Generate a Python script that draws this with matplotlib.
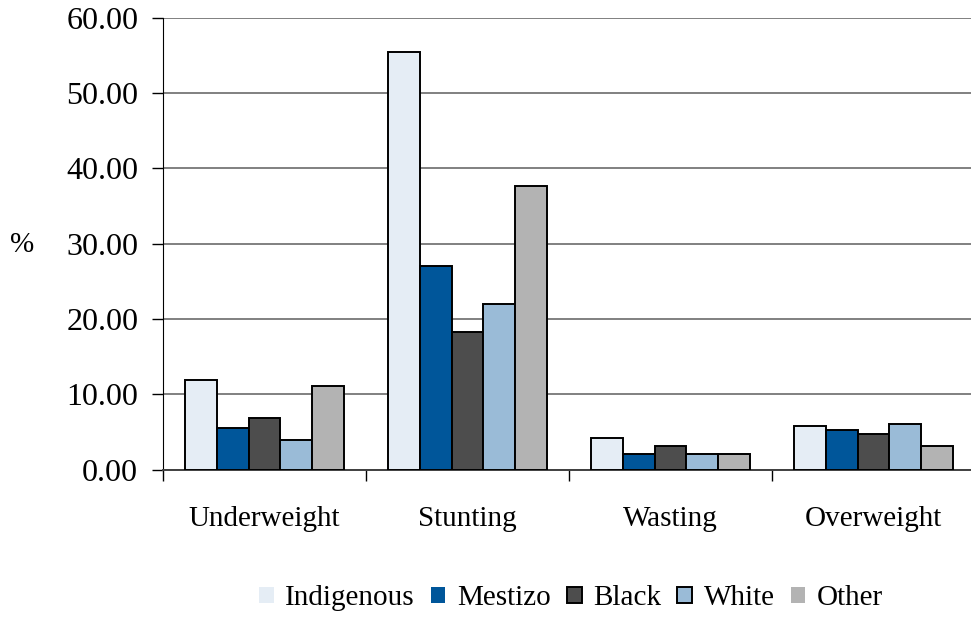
import numpy as np
import matplotlib
matplotlib.use('Agg')
import matplotlib.pyplot as plt

plt.rcParams['font.family'] = ['Liberation Serif', 'DejaVu Serif']

# data
categories = ['Underweight', 'Stunting', 'Wasting', 'Overweight']
groups = ['Indigenous', 'Mestizo', 'Black', 'White', 'Other']
indigenous = [11.95, 55.5, 4.2, 5.8]
mestizo = [5.5, 27.05, 2.1, 5.3]
black = [6.9, 18.3, 3.15, 4.75]
white = [3.95, 22.0, 2.05, 6.1]
other = [11.1, 37.7, 2.1, 3.15]
colors = ['#E5EDF5', '#00569A', '#4D4D4D', '#9ABBD7', '#B3B3B3']

series = [indigenous, mestizo, black, white, other]

fig = plt.figure(figsize=(9.71, 6.17), dpi=100)
ax = fig.add_axes([0.168, 0.239, 0.836, 0.732])

x = np.arange(len(categories)) + 0.5
w = 0.156
for i, (vals, name, c) in enumerate(zip(series, groups, colors)):
    ax.bar(x + (i - 2) * w, vals, width=w, color=c, edgecolor='black',
           linewidth=1.4, label=name, zorder=3)

ax.set_xlim(0, len(categories))
ax.set_ylim(0, 60)
ax.set_yticks(np.arange(0, 61, 10))
ax.set_yticklabels([f'{v:.2f}' for v in np.arange(0, 61, 10)], fontsize=23)
ax.yaxis.grid(True, color='#808080', linewidth=1.4, zorder=0)

# category boundaries as ticks, names centred between them
ax.set_xticks(np.arange(0, len(categories) + 1))
ax.set_xticklabels([])
ax.set_xticks(x, minor=True)
ax.set_xticklabels(categories, minor=True, fontsize=21)
ax.tick_params(axis='x', which='minor', length=0, pad=26)
ax.tick_params(axis='x', which='major', length=8, width=1, direction='out')
ax.tick_params(axis='y', length=8, width=1, direction='out', pad=10)

for s in ['top', 'right']:
    ax.spines[s].set_visible(False)
ax.spines['left'].set_color('black')
ax.spines['bottom'].set_color('#404040')
ax.spines['bottom'].set_linewidth(1.4)

fig.text(0.023, 0.603, '%', fontsize=21, ha='center', va='center')

leg = fig.legend(loc='center', bbox_to_anchor=(0.588, 0.03), ncol=5, frameon=False,
                 fontsize=21, handlelength=0.5, handleheight=0.5, handletextpad=0.4,
                 columnspacing=0.55)
for i, h in enumerate(leg.legend_handles):
    if groups[i] not in ('Black', 'White'):
        h.set_edgecolor('none')

fig.savefig('out.png', dpi=100)
